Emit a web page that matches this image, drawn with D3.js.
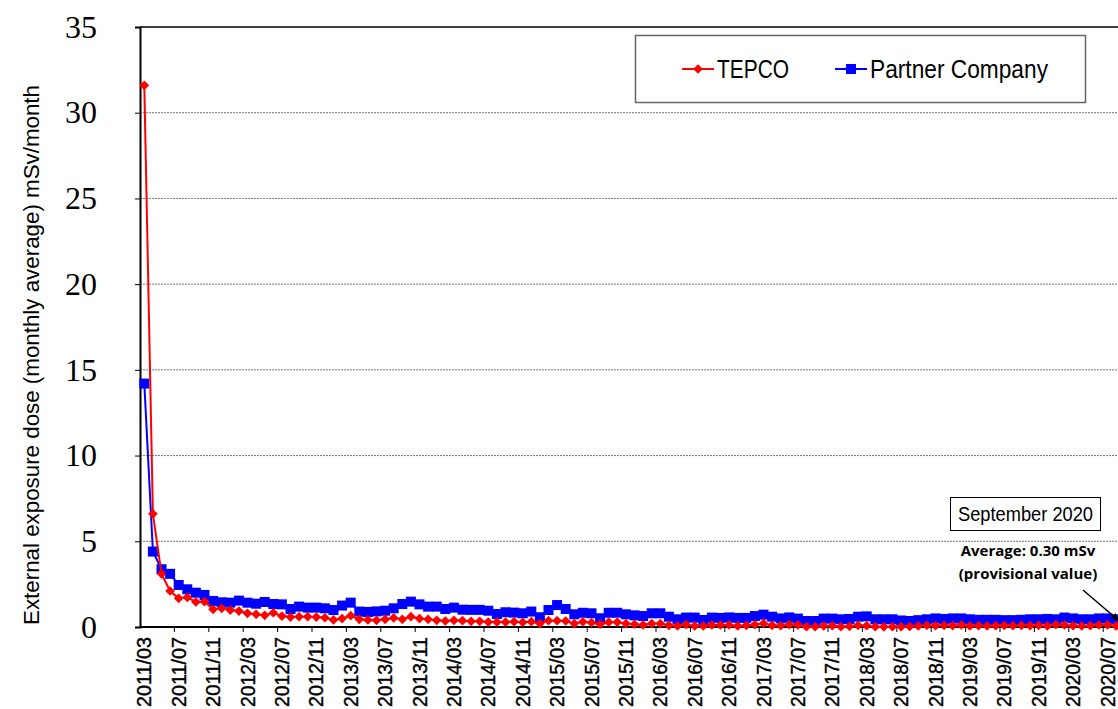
<!DOCTYPE html>
<html>
<head>
<meta charset="utf-8">
<script src="https://cdn.jsdelivr.net/npm/d3@7"></script>
<style>
  body { margin: 0; background: #fff; }
  svg { display: block; }
</style>
</head>
<body>
<div id="chart"></div>
<script>
// months 2011/03 .. 2020/09
let months = [];
for (let y = 2011; y <= 2020; y++) {
    for (let m = 1; m <= 12; m++) {
        if (y === 2011 && m < 3) continue;
        if (y === 2020 && m > 9) continue;
        months.push(y + "/" + (m < 10 ? "0" + m : m));
    }
}

let tepco = [
    31.6, 6.6, 3.1, 2.1, 1.67, 1.73, 1.46, 1.48, 1.03, 1.09,
    0.99, 0.93, 0.80, 0.74, 0.68, 0.83, 0.64, 0.58, 0.60, 0.60,
    0.58, 0.54, 0.41, 0.49, 0.66, 0.45, 0.41, 0.39, 0.45, 0.53,
    0.45, 0.60, 0.49, 0.45, 0.39, 0.35, 0.39, 0.37, 0.33, 0.33,
    0.29, 0.29, 0.29, 0.31, 0.27, 0.31, 0.20, 0.37, 0.37, 0.35,
    0.20, 0.30, 0.25, 0.16, 0.28, 0.28, 0.20, 0.16, 0.12, 0.20,
    0.20, 0.10, 0.06, 0.14, 0.06, 0.06, 0.12, 0.12, 0.12, 0.06,
    0.10, 0.14, 0.21, 0.10, 0.08, 0.14, 0.12, 0.02, 0.02, 0.06,
    0.08, 0.02, 0.04, 0.10, 0.08, 0.02, 0.01, 0.02, 0.02, 0.03,
    0.06, 0.10, 0.08, 0.10, 0.08, 0.12, 0.06, 0.08, 0.06, 0.08,
    0.10, 0.08, 0.10, 0.08, 0.10, 0.06, 0.14, 0.12, 0.08, 0.06,
    0.08, 0.12, 0.12, 0.06, 0.08
];

let partner = [
    14.2, 4.4, 3.37, 3.1, 2.45, 2.2, 2.0, 1.87, 1.52, 1.44,
    1.42, 1.54, 1.42, 1.36, 1.46, 1.34, 1.32, 1.05, 1.19, 1.13,
    1.13, 1.09, 0.99, 1.25, 1.42, 0.90, 0.88, 0.91, 0.95, 1.09,
    1.34, 1.48, 1.32, 1.19, 1.19, 1.05, 1.13, 1.01, 1.00, 1.00,
    0.95, 0.76, 0.86, 0.84, 0.80, 0.90, 0.57, 0.99, 1.28, 1.05,
    0.74, 0.83, 0.80, 0.51, 0.83, 0.83, 0.74, 0.68, 0.64, 0.80,
    0.80, 0.60, 0.45, 0.55, 0.55, 0.41, 0.55, 0.53, 0.56, 0.53,
    0.53, 0.64, 0.72, 0.60, 0.50, 0.56, 0.49, 0.35, 0.35, 0.49,
    0.49, 0.45, 0.47, 0.60, 0.62, 0.45, 0.45, 0.45, 0.38, 0.35,
    0.40, 0.45, 0.50, 0.47, 0.50, 0.50, 0.45, 0.42, 0.42, 0.42,
    0.40, 0.40, 0.42, 0.45, 0.45, 0.47, 0.45, 0.55, 0.50, 0.45,
    0.45, 0.50, 0.50, 0.45, 0.30
];

let yTicks = [0, 5, 10, 15, 20, 25, 30, 35];
let seriesNames = ["TEPCO", "Partner Company"];

let width = 1118;
let height = 709;

let plotLeft = 140;
let plotTop = 27;
let plotBottom = 627;
let bandW = 8.6;

let svg = d3.select("#chart")
            .append("svg")
            .attr("width", width)
            .attr("height", height);

let xScale = d3.scaleBand()
            .domain(months)
            .range([plotLeft, plotLeft + bandW * months.length])
            .padding(0);

let yScale = d3.scaleLinear()
            .domain([0, 35])
            .range([plotBottom, plotTop]);

// gridlines
svg.append("g")
    .selectAll("line")
    .data(yTicks.filter(d => d > 0 && d < 35))
    .enter()
    .append("line")
    .attr("x1", plotLeft)
    .attr("x2", width)
    .attr("y1", d => yScale(d))
    .attr("y2", d => yScale(d))
    .attr("stroke", "#777")
    .attr("stroke-width", 1)
    .attr("stroke-dasharray", "2,1");

// top frame
svg.append("line")
    .attr("x1", plotLeft).attr("x2", width)
    .attr("y1", plotTop).attr("y2", plotTop)
    .attr("stroke", "#000").attr("stroke-width", 1.5);

// y axis
let yAxis = d3.axisLeft(yScale).tickValues(yTicks).tickSize(5).tickPadding(38);
let yG = svg.append("g")
    .attr("transform", `translate(${plotLeft}, 0)`)
    .call(yAxis);
yG.select(".domain").attr("stroke-width", 2);
yG.selectAll("text")
    .attr("font-family", "'Liberation Serif', serif")
    .attr("font-size", 32)
    .attr("fill", "#000");

// x axis labels
let labelMonths = months.filter((d, i) => i % 4 === 0);
let xAxis = d3.axisBottom(xScale).tickValues(labelMonths).tickSize(0).tickPadding(8);
let xG = svg.append("g")
    .attr("transform", `translate(0, ${plotBottom})`)
    .call(xAxis);
xG.select(".domain").remove();
xG.selectAll("text")
    .attr("font-family", "'Liberation Sans', sans-serif")
    .attr("font-size", 20)
    .attr("fill", "#000")
    .attr("stroke", "#000")
    .attr("stroke-width", 0.4)
    .attr("transform", "rotate(-90)")
    .attr("text-anchor", "end")
    .attr("x", -10)
    .attr("y", 0)
    .attr("dy", "0.35em")
    .attr("textLength", 70)
    .attr("lengthAdjust", "spacingAndGlyphs");

// x tick marks at category boundaries
svg.append("g")
    .selectAll("line")
    .data(labelMonths.slice(1))
    .enter()
    .append("line")
    .attr("x1", d => xScale(d))
    .attr("x2", d => xScale(d))
    .attr("y1", plotBottom)
    .attr("y2", plotBottom + 5)
    .attr("stroke", "#000")
    .attr("stroke-width", 1);

// x axis line
svg.append("line")
    .attr("x1", plotLeft).attr("x2", width)
    .attr("y1", plotBottom).attr("y2", plotBottom)
    .attr("stroke", "#000").attr("stroke-width", 2);

// y title
svg.append("text")
    .attr("transform", "translate(39, 355) rotate(-90)")
    .attr("text-anchor", "middle")
    .attr("font-family", "'Liberation Sans', sans-serif")
    .attr("font-size", 22)
    .attr("fill", "#000")
    .attr("textLength", 540)
    .attr("lengthAdjust", "spacingAndGlyphs")
    .text("External exposure dose (monthly average) mSv/month");

let cx = d => xScale(d) + xScale.bandwidth() / 2;

let line = d3.line()
    .x(d => cx(d.m))
    .y(d => yScale(d.v));

let partnerData = months.map((m, i) => ({ m: m, v: partner[i] }));
let tepcoData = months.map((m, i) => ({ m: m, v: tepco[i] }));

// partner series
svg.append("path")
    .datum(partnerData)
    .attr("fill", "none")
    .attr("stroke", "#0000ff")
    .attr("stroke-width", 2)
    .attr("d", line);

svg.append("g")
    .selectAll("rect")
    .data(partnerData)
    .enter()
    .append("rect")
    .attr("x", d => cx(d.m) - 5)
    .attr("y", d => yScale(d.v) - 5)
    .attr("width", 10)
    .attr("height", 10)
    .attr("fill", "#0000ff");

// tepco series
svg.append("path")
    .datum(tepcoData)
    .attr("fill", "none")
    .attr("stroke", "#ff0000")
    .attr("stroke-width", 2)
    .attr("d", line);

let diamond = d3.symbol().type(d3.symbolDiamond2).size(60);
svg.append("g")
    .selectAll("path")
    .data(tepcoData)
    .enter()
    .append("path")
    .attr("d", diamond)
    .attr("transform", d => `translate(${cx(d.m)}, ${yScale(d.v)})`)
    .attr("fill", "#ff0000");

// legend
let legend = svg.append("g");
legend.append("rect")
    .attr("x", 635.5).attr("y", 35.5)
    .attr("width", 450).attr("height", 67)
    .attr("fill", "#fff")
    .attr("stroke", "#666")
    .attr("stroke-width", 1.5);

let legendItems = [
    { name: seriesNames[0], color: "#ff0000", x: 682, shape: "diamond", len: 72 },
    { name: seriesNames[1], color: "#0000ff", x: 835, shape: "square", len: 178 }
];
legendItems.forEach(function(item){
    legend.append("line")
        .attr("x1", item.x).attr("x2", item.x + 32)
        .attr("y1", 69).attr("y2", 69)
        .attr("stroke", item.color).attr("stroke-width", 2);
    if (item.shape === "diamond") {
        legend.append("path")
            .attr("d", diamond)
            .attr("transform", `translate(${item.x + 16}, 69)`)
            .attr("fill", item.color);
    } else {
        legend.append("rect")
            .attr("x", item.x + 11).attr("y", 64)
            .attr("width", 10).attr("height", 10)
            .attr("fill", item.color);
    }
    legend.append("text")
        .attr("x", item.x + 35)
        .attr("y", 78)
        .attr("font-family", "'Liberation Sans', sans-serif")
        .attr("font-size", 25)
        .attr("fill", "#000")
        .attr("textLength", item.len)
        .attr("lengthAdjust", "spacingAndGlyphs")
        .text(item.name);
});

// annotation
svg.append("rect")
    .attr("x", 950.5).attr("y", 497.5)
    .attr("width", 150).attr("height", 33)
    .attr("fill", "#fff")
    .attr("stroke", "#000")
    .attr("stroke-width", 1);
svg.append("text")
    .attr("x", 958).attr("y", 521)
    .attr("font-family", "'Liberation Sans', sans-serif")
    .attr("font-size", 20)
    .attr("fill", "#000")
    .attr("textLength", 135)
    .attr("lengthAdjust", "spacingAndGlyphs")
    .text("September 2020");

svg.append("text")
    .attr("x", 1028).attr("y", 556)
    .attr("text-anchor", "middle")
    .attr("font-family", "'Open Sans', sans-serif")
    .attr("font-weight", "bold")
    .attr("font-size", 15)
    .attr("fill", "#000")
    .text("Average: 0.30 mSv");
svg.append("text")
    .attr("x", 1028).attr("y", 579)
    .attr("text-anchor", "middle")
    .attr("font-family", "'Open Sans', sans-serif")
    .attr("font-weight", "bold")
    .attr("font-size", 15)
    .attr("fill", "#000")
    .text("(provisional value)");

svg.append("defs").append("marker")
    .attr("id", "arrow")
    .attr("viewBox", "0 0 10 10")
    .attr("refX", 9).attr("refY", 5)
    .attr("markerWidth", 5).attr("markerHeight", 5)
    .attr("orient", "auto")
    .append("path")
    .attr("d", "M0,0L10,5L0,10z")
    .attr("fill", "#000");

svg.append("line")
    .attr("x1", 1083).attr("y1", 590)
    .attr("x2", 1118).attr("y2", 620)
    .attr("stroke", "#000")
    .attr("stroke-width", 1.5)
    .attr("marker-end", "url(#arrow)");
</script>
</body>
</html>
